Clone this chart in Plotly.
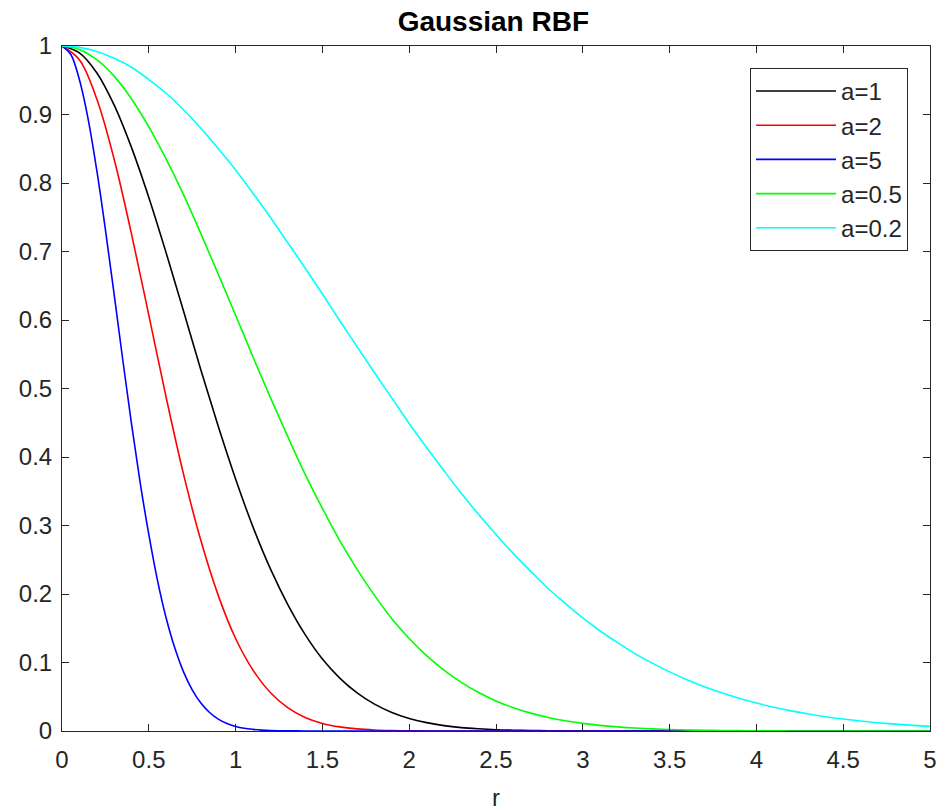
import plotly.graph_objects as go

r = [0.0, 0.1, 0.2, 0.3, 0.4, 0.5, 0.6, 0.7, 0.8, 0.9,
     1.0, 1.1, 1.2, 1.3, 1.4, 1.5, 1.6, 1.7, 1.8, 1.9,
     2.0, 2.1, 2.2, 2.3, 2.4, 2.5, 2.6, 2.7, 2.8, 2.9,
     3.0, 3.1, 3.2, 3.3, 3.4, 3.5, 3.6, 3.7, 3.8, 3.9,
     4.0, 4.1, 4.2, 4.3, 4.4, 4.5, 4.6, 4.7, 4.8, 4.9, 5.0]

a1 = [1.0, 0.990, 0.961, 0.914, 0.852, 0.779, 0.698, 0.613, 0.527, 0.445,
      0.368, 0.298, 0.237, 0.185, 0.141, 0.105, 0.0773, 0.0556, 0.0392, 0.0271,
      0.0183, 0.0122, 0.0079, 0.0050, 0.0032, 0.0019, 0.0012, 0.0007, 0.0004, 0.0002,
      0.0001, 0, 0, 0, 0, 0, 0, 0, 0, 0,
      0, 0, 0, 0, 0, 0, 0, 0, 0, 0, 0]

a2 = [1.0, 0.980, 0.923, 0.835, 0.726, 0.607, 0.487, 0.375, 0.278, 0.198,
      0.135, 0.0889, 0.0561, 0.0340, 0.0198, 0.0111, 0.0060, 0.0031, 0.0015, 0.0007,
      0.0003, 0.0001, 0, 0, 0, 0, 0, 0, 0, 0,
      0, 0, 0, 0, 0, 0, 0, 0, 0, 0,
      0, 0, 0, 0, 0, 0, 0, 0, 0, 0, 0]

# a=5 falls fast, so it is read at a finer step
r5 = [0.0, 0.05, 0.1, 0.15, 0.2, 0.25, 0.3, 0.35, 0.4, 0.45, 0.5, 0.55, 0.6, 0.65,
      0.7, 0.75, 0.8, 0.85, 0.9, 0.95, 1.0, 1.05, 1.1, 1.15, 1.2, 1.3, 1.4, 1.5,
      2.0, 2.5, 3.0, 3.5, 4.0, 4.5, 5.0]
a5 = [1.0, 0.988, 0.951, 0.894, 0.819, 0.732, 0.638, 0.542, 0.449, 0.363, 0.287, 0.220, 0.165, 0.121,
      0.0863, 0.0601, 0.0408, 0.0270, 0.0174, 0.0110, 0.0067, 0.0040, 0.0024, 0.0013, 0.0007, 0.0002, 0.0001, 0,
      0, 0, 0, 0, 0, 0, 0]

a05 = [1.0, 0.995, 0.980, 0.956, 0.923, 0.882, 0.835, 0.783, 0.726, 0.667,
       0.607, 0.546, 0.487, 0.430, 0.375, 0.325, 0.278, 0.236, 0.198, 0.164,
       0.135, 0.110, 0.0889, 0.0710, 0.0561, 0.0439, 0.0340, 0.0261, 0.0198, 0.0149,
       0.0111, 0.0082, 0.0060, 0.0043, 0.0031, 0.0022, 0.0015, 0.0011, 0.0007, 0.0005,
       0.0003, 0.0002, 0.0001, 0.0001, 0.0001, 0, 0, 0, 0, 0, 0]

a02 = [1.0, 0.998, 0.992, 0.982, 0.969, 0.951, 0.931, 0.907, 0.880, 0.850,
       0.819, 0.785, 0.750, 0.713, 0.676, 0.638, 0.599, 0.561, 0.523, 0.486,
       0.449, 0.414, 0.380, 0.347, 0.316, 0.287, 0.259, 0.233, 0.208, 0.186,
       0.165, 0.146, 0.129, 0.113, 0.0991, 0.0863, 0.0749, 0.0647, 0.0557, 0.0477,
       0.0408, 0.0347, 0.0294, 0.0248, 0.0208, 0.0174, 0.0145, 0.0121, 0.0100, 0.0082, 0.0067]

series = [("a=1", r, a1, "#000000"), ("a=2", r, a2, "#ff0000"), ("a=5", r5, a5, "#0000ff"),
          ("a=0.5", r, a05, "#00ff00"), ("a=0.2", r, a02, "#00ffff")]

x_ticks = [0, 0.5, 1, 1.5, 2, 2.5, 3, 3.5, 4, 4.5, 5]
x_tick_text = ["0", "0.5", "1", "1.5", "2", "2.5", "3", "3.5", "4", "4.5", "5"]
y_ticks = [0, 0.1, 0.2, 0.3, 0.4, 0.5, 0.6, 0.7, 0.8, 0.9, 1]
y_tick_text = ["0", "0.1", "0.2", "0.3", "0.4", "0.5", "0.6", "0.7", "0.8", "0.9", "1"]

fig = go.Figure()
for name, xs, ys, col in series:
    fig.add_trace(go.Scatter(x=xs, y=ys, mode="lines", name=name,
                             line=dict(color=col, width=1.6, shape="spline", smoothing=1.0)))

axcol = "#262626"
fnt = "Liberation Sans, Arial, sans-serif"
fig.update_layout(
    width=937, height=811,
    margin=dict(l=62, r=7, t=46, b=80),
    paper_bgcolor="white", plot_bgcolor="white",
    font=dict(family=fnt, size=24, color=axcol),
    title=dict(text="<b>Gaussian RBF</b>", x=0.5265, xanchor="center", y=0.974, yanchor="middle",
               font=dict(family=fnt, size=28, color="#000000")),
    showlegend=True,
    legend=dict(x=0.9747, xanchor="right", y=0.968, yanchor="top",
                bgcolor="white", bordercolor=axcol, borderwidth=1,
                font=dict(family=fnt, size=24, color=axcol),
                tracegroupgap=0, itemwidth=80),
)
fig.update_xaxes(range=[0, 5], tickvals=x_ticks, ticktext=x_tick_text,
                 showline=True, linecolor=axcol, linewidth=1, mirror="ticks",
                 ticks="inside", ticklen=7, tickcolor=axcol, tickwidth=1,
                 showgrid=False, zeroline=False, ticklabeloverflow="allow",
                 ticklabelstandoff=7, automargin=False,
                 title=dict(text="r", font=dict(family=fnt, size=24, color=axcol), standoff=24))
fig.update_yaxes(range=[0, 1], tickvals=y_ticks, ticktext=y_tick_text,
                 showline=True, linecolor=axcol, linewidth=1, mirror="ticks",
                 ticks="inside", ticklen=7, tickcolor=axcol, tickwidth=1,
                 showgrid=False, zeroline=False, ticklabelstandoff=4, automargin=False)

fig.write_html("out.html", config={"displayModeBar": False},
               post_script="document.body.style.margin='0';")
